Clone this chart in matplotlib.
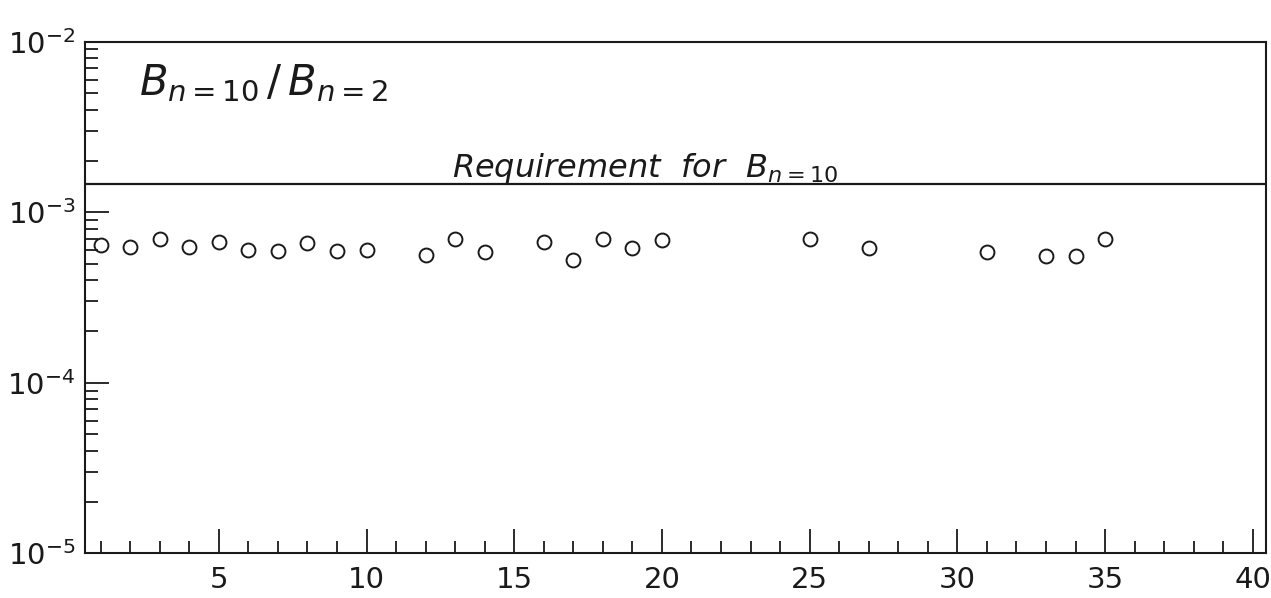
import matplotlib
matplotlib.use("Agg")
import matplotlib.pyplot as plt
from matplotlib.ticker import FixedLocator, FixedFormatter, MultipleLocator, NullFormatter

# Harmonic index and measured ratio B(n=10)/B(n=2)
harmonic = [1, 2, 3, 4, 5, 6, 7, 8, 9, 10, 12, 13, 14, 16, 17, 18, 19, 20,
            25, 27, 31, 33, 34, 35]
ratio = [6.42e-4, 6.28e-4, 6.93e-4, 6.22e-4, 6.71e-4, 6.00e-4, 5.92e-4, 6.62e-4,
         5.92e-4, 6.00e-4, 5.61e-4, 6.96e-4, 5.87e-4, 6.66e-4, 5.24e-4, 6.96e-4,
         6.14e-4, 6.87e-4, 6.96e-4, 6.14e-4, 5.82e-4, 5.56e-4, 5.56e-4, 6.96e-4]
requirement = 1.46e-3

x_major = [5, 10, 15, 20, 25, 30, 35, 40]
y_major = [1e-5, 1e-4, 1e-3, 1e-2]
y_labels = [r"$\mathregular{10^{-5}}$", r"$\mathregular{10^{-4}}$",
            r"$\mathregular{10^{-3}}$", r"$\mathregular{10^{-2}}$"]

plt.rcParams["mathtext.fontset"] = "custom"
plt.rcParams["mathtext.rm"] = "DejaVu Sans"
plt.rcParams["mathtext.it"] = "DejaVu Sans:italic"

ink = "#1a1a1a"
fig = plt.figure(figsize=(12.71, 5.98), dpi=100)
ax = fig.add_axes([0.0669, 0.0747, 0.9292, 0.8556])

ax.set_yscale("log")
ax.set_xlim(0.47, 40.45)
ax.set_ylim(1e-5, 1e-2)

ax.axhline(requirement, color=ink, lw=1.6, zorder=2)
ax.plot(harmonic, ratio, ls="none", marker="o", ms=10, mfc="none",
        mec=ink, mew=1.4, zorder=3)

for s in ax.spines.values():
    s.set_color(ink)
    s.set_linewidth(1.5)

ax.xaxis.set_major_locator(FixedLocator(x_major))
ax.xaxis.set_minor_locator(MultipleLocator(1))
ax.yaxis.set_major_locator(FixedLocator(y_major))
ax.yaxis.set_major_formatter(FixedFormatter(y_labels))
ax.yaxis.set_minor_locator(FixedLocator(
    [m * 10.0 ** e for e in (-5, -4, -3) for m in range(2, 10)]))
ax.yaxis.set_minor_formatter(NullFormatter())

ax.tick_params(which="both", direction="in", color=ink, width=1.3,
               top=False, right=False, labelsize=21, labelcolor=ink)
ax.tick_params(which="major", length=17)
ax.tick_params(which="minor", length=9)
ax.tick_params(axis="x", which="major", pad=9)
ax.tick_params(axis="y", which="major", pad=7)

ax.text(0.046, 0.896, r"$B_{n=\mathregular{10}}\,/\,B_{n=\mathregular{2}}$",
        transform=ax.transAxes, fontsize=30, color=ink, va="baseline", ha="left")
ax.text(0.311, 0.735, r"$\mathit{Requirement\ \ for}\ \ B_{n=\mathregular{10}}$",
        transform=ax.transAxes, fontsize=23, color=ink, va="baseline", ha="left")

fig.savefig("out.png", dpi=100, facecolor="white")
